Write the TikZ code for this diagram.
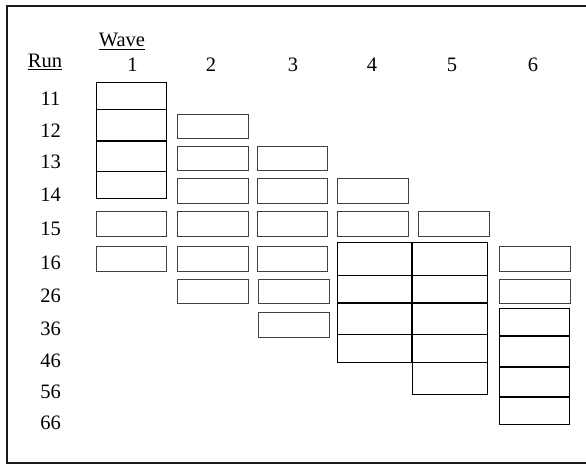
\documentclass[tikz,border=0pt]{standalone}
\usepackage{fontspec}
\setmainfont{Liberation Serif}
\newcommand{\cellbox}[6]{\node[#2, minimum width={#5-#3}, minimum height={#6-#4}] (#1) at ({(#3+#5)/2},{(#4+#6)/2}) {};}
\tikzset{
  cell/.style={draw=black!75, line width=0.9pt, inner sep=0pt, outer sep=0pt},
  scell/.style={draw=black, line width=1pt, inner sep=0pt, outer sep=0pt},
  lbl/.style={font=\fontsize{20.5}{21}\selectfont, inner sep=0pt, anchor=base},
  divider/.style={line width=1.8pt},
  frameline/.style={line width=2pt, black!90}
}
\begin{document}
\begin{tikzpicture}[x=1pt,y=-1pt]
\useasboundingbox (0,0) rectangle (586,465);
% frame
\coordinate (ftr) at (586,6);
\coordinate (ftl) at (7,6);
\coordinate (fbl) at (7,463);
\coordinate (fbr) at (586,463);
\draw[frameline] (ftr) -- (ftl) -- (fbl) -- (fbr);
% headings
\node[lbl] (run) at (45,68) {\underline{Run}};
\node[lbl] (wave) at (122,47) {\underline{Wave}};
\node[lbl] (w1) at (132.5,71.5) {1};
\node[lbl] (w2) at (211,71.5) {2};
\node[lbl] (w3) at (293,71.5) {3};
\node[lbl] (w4) at (372,71.5) {4};
\node[lbl] (w5) at (452,71.5) {5};
\node[lbl] (w6) at (533,71.5) {6};
% run labels
\node[lbl] (r11) at (50.5,106) {11};
\node[lbl] (r12) at (50.5,138) {12};
\node[lbl] (r13) at (50.5,169) {13};
\node[lbl] (r14) at (50.5,202) {14};
\node[lbl] (r15) at (50.5,235) {15};
\node[lbl] (r16) at (50.5,269) {16};
\node[lbl] (r26) at (50.5,302) {26};
\node[lbl] (r36) at (50.5,335) {36};
\node[lbl] (r46) at (50.5,367) {46};
\node[lbl] (r56) at (50.5,398) {56};
\node[lbl] (r66) at (50.5,429) {66};
% wave 1
\cellbox{a11}{scell}{96}{83}{166}{110}
\cellbox{a12}{scell}{96}{110}{166}{141}
\cellbox{a13}{scell}{96}{141}{166}{172}
\cellbox{a14}{scell}{96}{172}{166}{199}
\draw[divider] (a12.south west) -- (a12.south east);
\cellbox{a15}{cell}{96}{211}{166}{236}
\cellbox{a16}{cell}{96}{246}{166}{271}
% wave 2
\cellbox{b12}{cell}{177}{114}{248}{138}
\cellbox{b13}{cell}{177}{146}{248}{170}
\cellbox{b14}{cell}{177}{178}{248}{203}
\cellbox{b15}{cell}{177}{211}{248}{236}
\cellbox{b16}{cell}{177}{246}{248}{271}
\cellbox{b26}{cell}{177}{279}{248}{303}
% wave 3
\cellbox{c13}{cell}{257}{146}{327}{170}
\cellbox{c14}{cell}{257}{178}{327}{203}
\cellbox{c15}{cell}{257}{211}{327}{236}
\cellbox{c16}{cell}{257}{246}{327}{271}
\cellbox{c26}{cell}{258}{279}{329}{303}
\cellbox{c36}{cell}{258}{312}{329}{337}
% wave 4
\cellbox{d14}{cell}{337}{178}{408}{203}
\cellbox{d15}{cell}{337}{211}{408}{236}
\cellbox{d16}{scell}{337}{242}{412}{275}
\cellbox{d26}{scell}{337}{275}{412}{303}
\cellbox{d36}{scell}{337}{303}{412}{334}
\cellbox{d46}{scell}{337}{334}{412}{362}
% wave 5
\cellbox{e15}{cell}{418}{211}{489}{236}
\cellbox{e16}{scell}{412}{242}{487}{275}
\cellbox{e26}{scell}{412}{275}{487}{303}
\cellbox{e36}{scell}{412}{303}{487}{334}
\cellbox{e46}{scell}{412}{334}{487}{362}
\cellbox{e56}{scell}{412}{362}{487}{394}
\draw[divider] (d26.south west) -- (e26.south east);
\draw[divider] (d16.north east) -- (d46.south east);
% wave 6
\cellbox{f16}{cell}{499}{246}{570}{271}
\cellbox{f26}{cell}{499}{279}{570}{303}
\cellbox{f36}{scell}{499}{308}{569}{336}
\cellbox{f46}{scell}{499}{336}{569}{367}
\cellbox{f56}{scell}{499}{367}{569}{397}
\cellbox{f66}{scell}{499}{397}{569}{424}
\draw[divider] (f36.south west) -- (f36.south east);
\draw[divider] (f46.south west) -- (f46.south east);
\draw[divider] (f56.south west) -- (f56.south east);
\end{tikzpicture}
\end{document}
